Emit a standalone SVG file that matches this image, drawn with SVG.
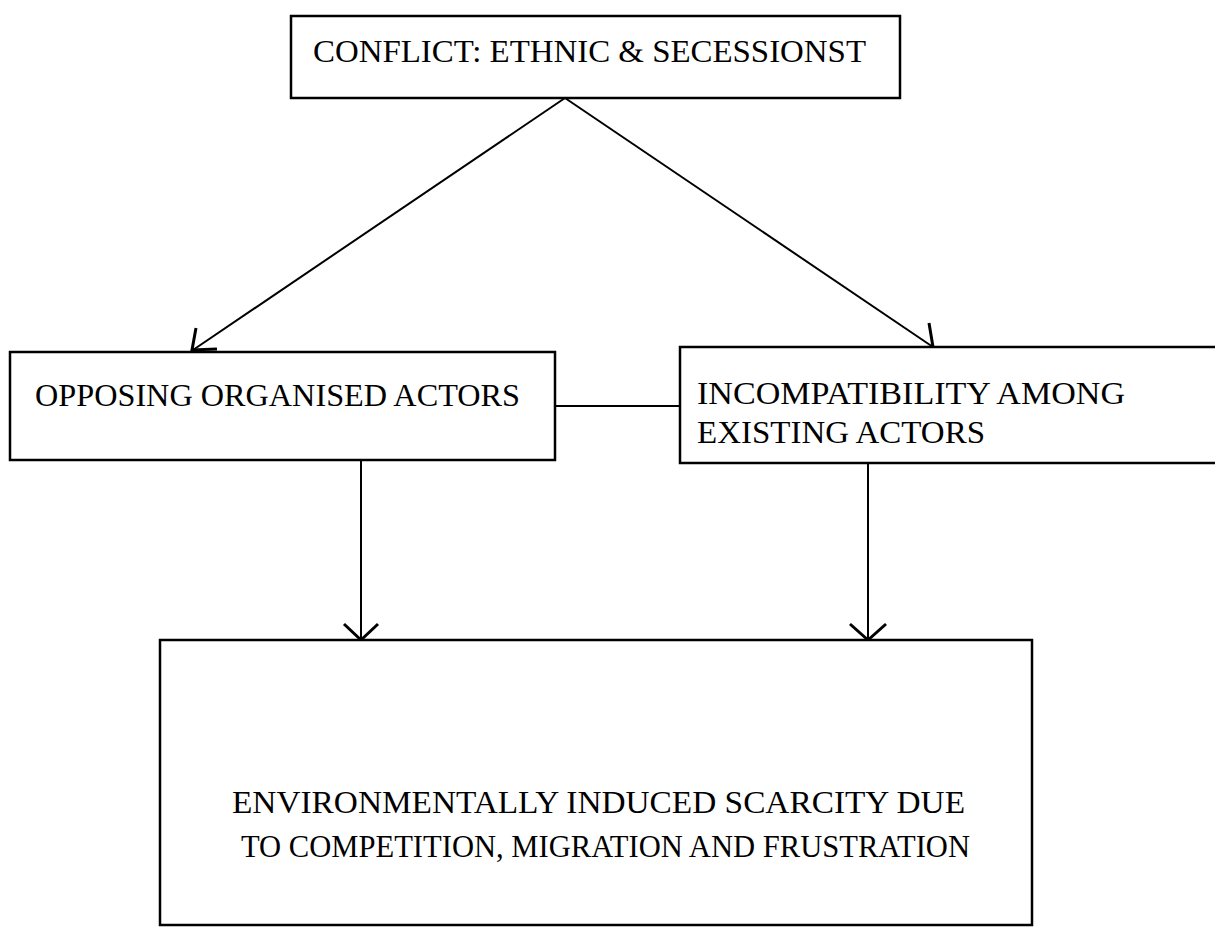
<svg xmlns="http://www.w3.org/2000/svg" width="1215" height="927" viewBox="0 0 1215 927">
<style>
.box{fill:#fff;stroke:#000;stroke-width:2.5}
.t{font-family:"Liberation Serif","Times New Roman",serif;font-size:31px;fill:#000}
.c{fill:none;stroke:#000;stroke-width:2}
.ah{fill:none;stroke:#000;stroke-width:3;stroke-linejoin:miter}
</style>
<rect width="1215" height="927" fill="#fff"/>
<g id="connectors">
<line class="c" x1="565" y1="98" x2="193" y2="350"/>
<polyline class="ah" points="196,328 192,350 217,349"/>
<line class="c" x1="565" y1="98" x2="933" y2="347"/>
<polyline class="ah" points="929,323 933,347 913,353"/>
<line class="c" x1="555" y1="406" x2="680" y2="406"/>
<line class="c" x1="361" y1="460" x2="361" y2="640"/>
<polyline class="ah" points="344,624 361,640 378,624"/>
<line class="c" x1="868" y1="463" x2="868" y2="640"/>
<polyline class="ah" points="850,624 868,640 886,624"/>
</g>
<g id="n-conflict">
<rect class="box" x="291" y="16" width="609" height="82"/>
<text class="t" x="313" y="62" textLength="553" lengthAdjust="spacingAndGlyphs">CONFLICT:  ETHNIC &amp; SECESSIONST</text>
</g>
<g id="n-opposing">
<rect class="box" x="10" y="352" width="545" height="108"/>
<text class="t" x="35" y="406" textLength="485" lengthAdjust="spacingAndGlyphs">OPPOSING  ORGANISED ACTORS</text>
</g>
<g id="n-incompat">
<rect class="box" x="680" y="347" width="540" height="116"/>
<text class="t" x="697" y="404" textLength="428" lengthAdjust="spacingAndGlyphs">INCOMPATIBILITY AMONG</text>
<text class="t" x="697" y="443" textLength="288" lengthAdjust="spacingAndGlyphs">EXISTING ACTORS</text>
</g>
<g id="n-env">
<rect class="box" x="160" y="640" width="872" height="285"/>
<text class="t" x="232" y="813" textLength="733" lengthAdjust="spacingAndGlyphs">ENVIRONMENTALLY INDUCED SCARCITY DUE</text>
<text class="t" x="241" y="857" textLength="729" lengthAdjust="spacingAndGlyphs">TO COMPETITION, MIGRATION AND FRUSTRATION</text>
</g>
</svg>
